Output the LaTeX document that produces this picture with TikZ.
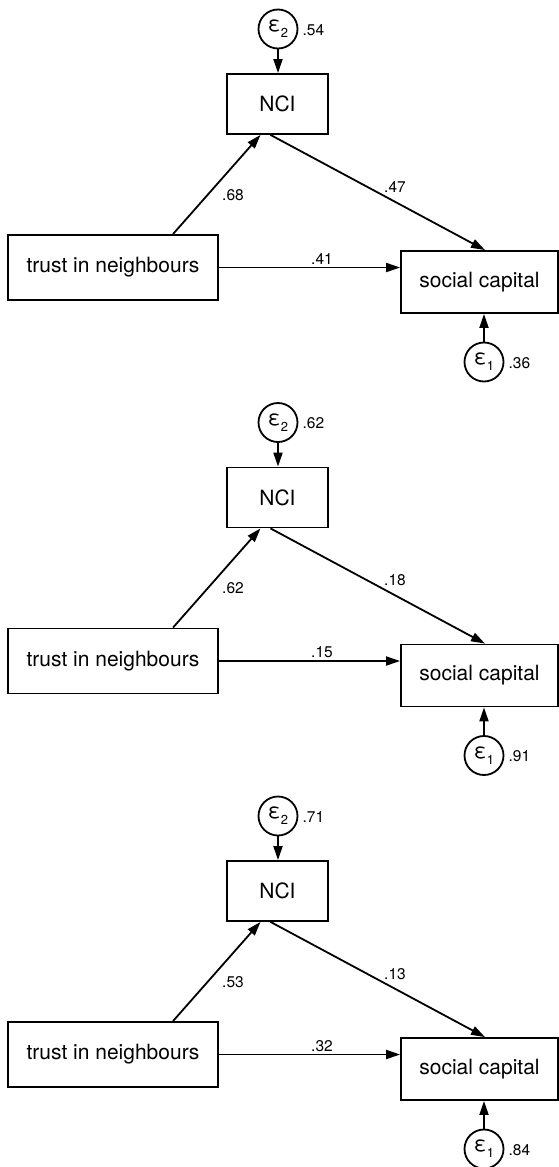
\documentclass[tikz,border=0pt]{standalone}
\usepackage{fontspec}
\setmainfont{TeX Gyre Heros}
\usepackage{tikz}
\usetikzlibrary{arrows.meta,calc}

\newcommand{\epsvar}[1]{ε\raisebox{-0.55ex}{\fontsize{13}{13}\selectfont #1}}

\tikzset{
  obsbox/.style={draw,line width=1.8pt,inner sep=0pt,font=\fontsize{21}{21}\selectfont},
  errcirc/.style={draw,circle,line width=1.8pt,minimum size=39pt,inner sep=0pt,font=\fontsize{21}{21}\selectfont},
  semarrow/.style={line width=1.8pt,-{Triangle[length=14pt,width=9pt]}},
  coef/.style={font=\fontsize{15.5}{15.5}\selectfont,inner sep=2pt}
}

\begin{document}
\begin{tikzpicture}[x=1pt,y=-1pt]
\useasboundingbox (0,0) rectangle (559,1167);
\foreach \p/\ea/\eb/\ab/\ac/\bc in {0/.54/.36/.68/.47/.41,1/.62/.91/.62/.18/.15,2/.71/.84/.53/.13/.32}{
\begin{scope}[shift={(0,393.5*\p)}]
% variables
\node[errcirc] (e2\p) at (278,29) {\epsvar{2}};
\node[obsbox,minimum width=101pt,minimum height=60pt] (nci\p) at (277.5,104) {NCI};
\node[obsbox,minimum width=210pt,minimum height=65pt] (trust\p) at (113,267.5) {trust in neighbours};
\node[obsbox,minimum width=157pt,minimum height=62pt] (soc\p) at (479.5,282) {social capital};
\node[errcirc] (e1\p) at (484,362) {\epsvar{1}};
% paths
\draw[semarrow] (e2\p.south) -- (e2\p.south |- nci\p.north);
\draw[semarrow] ($(trust\p.north)+(60,0)$) -- ($(nci\p.south)+(-17,0)$);
\draw[semarrow] ($(nci\p.south)+(-7,0)$) -- ($(soc\p.north)+(5.5,0)$);
\draw[semarrow] (trust\p.east) -- (trust\p.east -| soc\p.west);
\draw[semarrow] (e1\p.north) -- (e1\p.north |- soc\p.south);
% estimates
\node[coef,anchor=west] (v2\p) at ($(e2\p.east)+(2,1)$) {\ea};
\node[coef,anchor=west] (v1\p) at ($(e1\p.east)+(2,1)$) {\eb};
\node[coef] (ab\p) at (233,195) {\ab};
\node[coef] (ac\p) at (395,187) {\ac};
\node[coef] (bc\p) at (322,259) {\bc};
\end{scope}
}
\end{tikzpicture}
\end{document}
